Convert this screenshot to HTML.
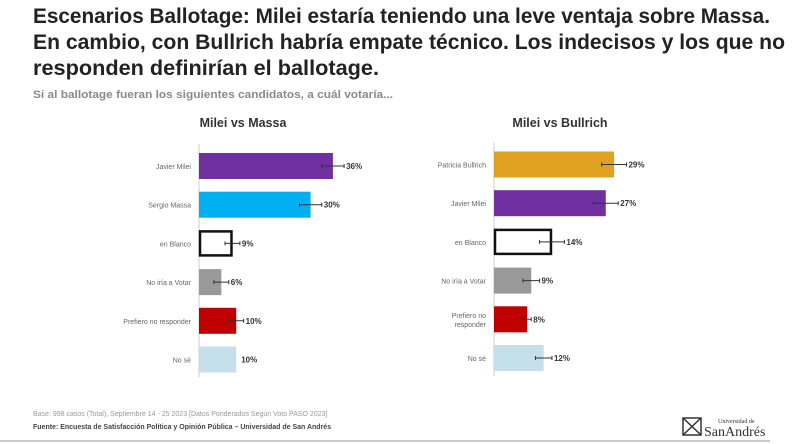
<!DOCTYPE html>
<html><head><meta charset="utf-8"><style>
html,body{margin:0;padding:0;background:#fff;}
svg{display:block;font-family:"Liberation Sans",sans-serif;}
</style></head><body>
<svg id="s" width="800" height="444" viewBox="0 0 800 444">
<g font-weight="bold" font-size="21" fill="#222">
<text x="33" y="23" textLength="737" lengthAdjust="spacingAndGlyphs">Escenarios Ballotage: Milei estaría teniendo una leve ventaja sobre Massa.</text>
<text x="33" y="49" textLength="752" lengthAdjust="spacingAndGlyphs">En cambio, con Bullrich habría empate técnico. Los indecisos y los que no</text>
<text x="33" y="75" textLength="346" lengthAdjust="spacingAndGlyphs">responden definirían el ballotage.</text>
</g>
<text x="33" y="98" font-size="11" font-weight="bold" fill="#8a8a8a" textLength="360" lengthAdjust="spacingAndGlyphs">Si al ballotage fueran los siguientes candidatos, a cuál votaría...</text>
<text x="243" y="127" font-size="12.5" font-weight="bold" fill="#333" text-anchor="middle">Milei vs Massa</text>
<text x="560" y="127" font-size="12.5" font-weight="bold" fill="#333" text-anchor="middle">Milei vs Bullrich</text>
<g id="c1"></g>
<g id="c2"></g>
<text x="33" y="416" font-size="7" fill="#999">Base: 998 casos (Total), Septiembre 14 - 25 2023 [Datos Ponderados Según Voto PASO 2023]</text>
<text x="33" y="429" font-size="7" font-weight="bold" fill="#444">Fuente: Encuesta de Satisfacción Política y Opinión Pública  – Universidad de San Andrés</text>
<line x1="0" y1="441" x2="770" y2="441" stroke="#bbb" stroke-width="1.5"/>
<g>
<rect x="683" y="418" width="18" height="17" fill="none" stroke="#333" stroke-width="1.5"/>
<path d="M683 418 L701 435 M701 418 L683 435" stroke="#333" stroke-width="1.5"/>
<text x="718" y="423" font-size="6" fill="#333" font-family="Liberation Serif,serif">Universidad de</text>
<text x="704" y="436" font-size="14" fill="#333" font-family="Liberation Serif,serif">SanAndrés</text>
</g>
</svg>
<script>
const cats1=["Javier Milei","Sergio Massa","en Blanco","No iría a Votar","Prefiero no responder","No sé"];
const vals1=[36,30,9,6,10,10];
const cols1=["#7030a0","#00b0f0","#ffffff","#999999","#c00000","#c5e0ea"];
const err1=[3,3,2,2,2,0];
const cats2=["Patricia Bullrich","Javier Milei","en Blanco","No iría a Votar","Prefiero no|responder","No sé"];
const vals2=[29,27,14,9,8,12];
const cols2=["#e0a020","#7030a0","#ffffff","#999999","#c00000","#c5e0ea"];
const err2=[3,3,3,2,1,2];
const NS="http://www.w3.org/2000/svg";
function mk(t,a,p){const e=document.createElementNS(NS,t);for(const k in a)e.setAttribute(k,a[k]);p.appendChild(e);return e;}
function draw(g,cats,vals,cols,errs,x0,ppu,y0,step){
  const xs=v=>x0+v*ppu, yc=i=>y0+i*step, bh=26;
  const ax=mk('line',{x1:x0,y1:y0-22,x2:x0,y2:yc(cats.length-1)+18,stroke:'#ccc'},g);
  
  
  cats.forEach((c,i)=>{
    const y=yc(i);
    const outline=cols[i]==="#ffffff";
    const r=mk('rect',{x:x0+(outline?1:0),y:y-bh/2+(outline?1:0),width:xs(vals[i])-x0-(outline?2:0),height:bh-(outline?2:0),fill:cols[i],stroke:outline?'#111':'none','stroke-width':outline?2.5:0},g);
    
    
    const lines=c.split('|');
    lines.forEach((l,k)=>{
      const t=mk('text',{x:x0-8,y:y+3-(lines.length-1)*4.5+k*9,'font-size':7,fill:'#666','text-anchor':'end'},g);
      t.textContent=l;
      
      
    });
    if(errs[i]>0){
      const e=mk('path',{d:`M${xs(vals[i]-errs[i])} ${y} H${xs(vals[i]+errs[i])} M${xs(vals[i]-errs[i])} ${y-2} v4 M${xs(vals[i]+errs[i])} ${y-2} v4`,stroke:'#333','stroke-width':1},g);
      
      
    }
    const lt=mk('text',{x:xs(vals[i]+errs[i])+ (errs[i]>0?2:5),y:y+3,'font-size':8,'font-weight':'bold',fill:'#333'},g);
    lt.textContent=vals[i]+'%';
    
    
  });
}
draw(document.getElementById('c1'),cats1,vals1,cols1,err1,199,3.72,166,38.7);
draw(document.getElementById('c2'),cats2,vals2,cols2,err2,494,4.14,164.5,38.7);
</script>
</body></html>
